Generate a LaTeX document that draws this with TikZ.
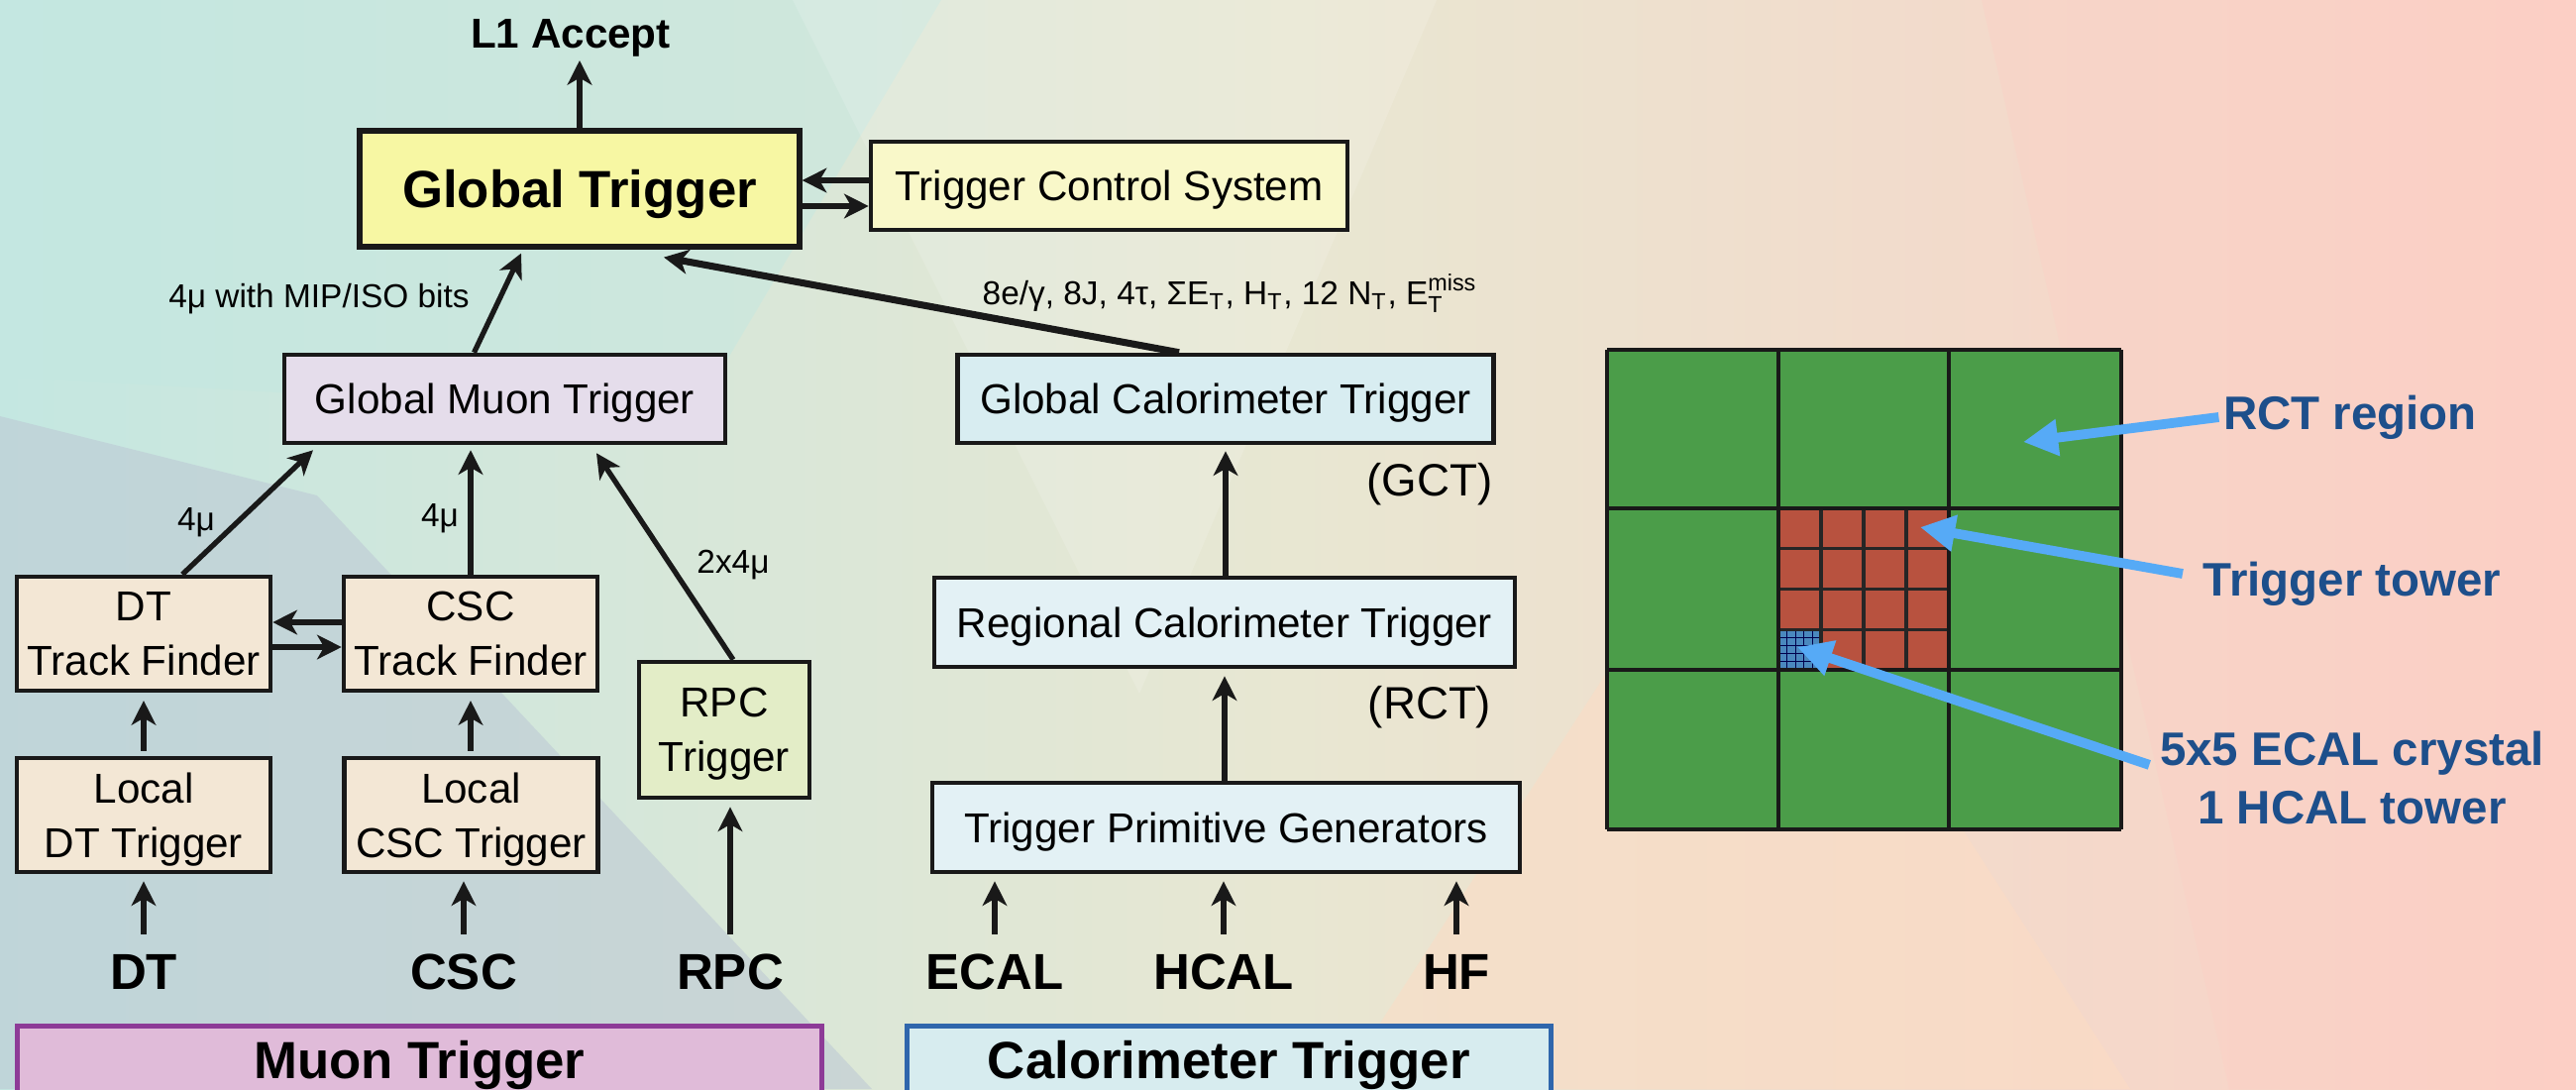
\documentclass[tikz,border=0pt]{standalone}
\usepackage{fontspec}
\setmainfont{Liberation Sans}
\usetikzlibrary{arrows.meta,positioning,calc}

\newlength\px
\setlength\px{0.01cm}

\definecolor{bgleft}{HTML}{C4E7E1}
\definecolor{bgmid}{HTML}{E8E7D2}
\definecolor{bgright}{HTML}{FCCFC5}
\definecolor{bgshadow}{HTML}{BCC8D4}
\definecolor{bgpeach}{HTML}{FDDCC4}
\definecolor{gtyellow}{HTML}{F7F7A3}
\definecolor{tcsyellow}{HTML}{F9F8C9}
\definecolor{gmtlilac}{HTML}{E5DDEB}
\definecolor{tfbeige}{HTML}{F3E7D5}
\definecolor{rpcgreen}{HTML}{E3EDC7}
\definecolor{gctblue}{HTML}{D8EDF1}
\definecolor{rctblue}{HTML}{E3F1F5}
\definecolor{muonpink}{HTML}{E0BBD9}
\definecolor{muonedge}{HTML}{8D3B97}
\definecolor{calofill}{HTML}{D7ECEF}
\definecolor{caloedge}{HTML}{2F66AC}
\definecolor{regiongreen}{HTML}{4B9D49}
\definecolor{towerred}{HTML}{B8523F}
\definecolor{crystalblue}{HTML}{4A88BE}
\definecolor{pointblue}{HTML}{56AAF6}
\definecolor{labelblue}{HTML}{1D4F8B}

\begin{document}
\begin{tikzpicture}[x=0.01cm, y=-0.01cm,
  box/.style={rectangle, draw=black!90, line width=1.3pt, inner sep=2pt, align=center, text depth=0pt, font=\fontsize{12pt}{15.5pt}\selectfont},
  inlbl/.style={font=\bfseries\fontsize{14.5pt}{17pt}\selectfont, inner sep=0pt, text height=10.5pt, text depth=0pt},
  elbl/.style={font=\fontsize{9.5pt}{11pt}\selectfont, inner sep=0pt},
  tag/.style={font=\fontsize{13pt}{15pt}\selectfont, inner sep=0pt},
  banner/.style={rectangle, line width=1.3pt, anchor=north west, inner sep=0pt, minimum height=68\px, text height=11pt, text depth=0pt, font=\bfseries\fontsize{15pt}{17pt}\selectfont},
  note/.style={font=\bfseries\fontsize{13.5pt}{16.5pt}\selectfont, text=labelblue, inner sep=0pt, align=center},
  arr/.style={-{Stealth[length=7pt, width=7pt, inset=2pt]}, line width=1.5pt, draw=black!90},
  pointer/.style={-{Triangle[length=10pt, width=10pt]}, line width=2.8pt, draw=pointblue}
]
\useasboundingbox (0,0) rectangle (2600,1099);
\clip (0,0) rectangle (2600,1099);

% Background
\shade[left color=bgleft, right color=bgright, middle color=bgmid] (0,0) rectangle (2600,1099);
\fill[bgleft, opacity=0.5] (0,0) -- (950,0) -- (700,420) -- (0,380) -- cycle;
\fill[bgshadow, opacity=0.55] (0,420) -- (320,500) -- (880,1099) -- (0,1099) -- cycle;
\fill[white, opacity=0.15] (800,0) -- (1450,0) -- (1150,700) -- cycle;
\fill[bgpeach, opacity=0.5] (1350,1099) -- (1750,480) -- (2150,1099) -- cycle;
\fill[bgright, opacity=0.4] (2000,0) -- (2600,0) -- (2600,1099) -- (2250,1099) -- cycle;

% Global trigger level
\node[box, fill=gtyellow, line width=1.5pt, minimum width=444\px, minimum height=117\px, font=\bfseries\fontsize{15pt}{17pt}\selectfont] (gt) at (585,190.5) {Global Trigger};
\node[box, fill=tcsyellow, minimum width=481\px, minimum height=89\px] (tcs) at (1119.5,187.5) {Trigger Control System};
\node[font=\bfseries\fontsize{12pt}{14pt}\selectfont, inner sep=0pt, anchor=base] (l1) at (576,48) {L1 Accept};
\draw[arr, shorten >=1pt] (gt.north) -- (l1.south -| gt.north);
\draw[arr] (tcs.west |- 0,182) -- (gt.east |- 0,182);
\draw[arr] (gt.east |- 0,208) -- (tcs.west |- 0,208);

% Muon trigger
\node[box, fill=gmtlilac, minimum width=445\px, minimum height=89\px] (gmt) at (509.5,402.5) {Global Muon Trigger};
\node[box, fill=tfbeige, minimum width=256\px, minimum height=115\px] (dttf) at (145,639.5) {DT\\Track Finder};
\node[box, fill=tfbeige, minimum width=256\px, minimum height=115\px] (csctf) at (475,639.5) {CSC\\Track Finder};
\node[box, fill=rpcgreen, minimum width=172\px, minimum height=137\px] (rpc) at (731,736.5) {RPC\\Trigger};
\node[box, fill=tfbeige, minimum width=256\px, minimum height=115\px] (ldt) at (145,822.5) {Local\\DT Trigger};
\node[box, fill=tfbeige, minimum width=256\px, minimum height=115\px] (lcsc) at (475.5,822.5) {Local\\CSC Trigger};

\draw[arr] ($(gmt.north)+(-31,0)$) -- ($(gt.south)+(-59,4)$);
\draw[arr] ($(dttf.north)+(39,0)$) -- ($(gmt.south)+(-193.5,5)$);
\draw[arr, shorten >=1.4pt] (csctf.north) -- (csctf.north |- gmt.south);
\draw[arr] ($(rpc.north)+(9,0)$) -- ($(gmt.south)+(92.5,8)$);
\draw[arr] (csctf.west |- 0,628) -- (dttf.east |- 0,628);
\draw[arr] (dttf.east |- 0,653) -- (csctf.west |- 0,653);
\draw[arr, shorten <=1.4pt, shorten >=2.2pt] (ldt.north) -- (dttf.south);
\draw[arr, shorten <=1.4pt, shorten >=2.2pt] (lcsc.north -| csctf.south) -- (csctf.south);

\node[elbl] (lblgt) at (322,302) {4μ with MIP/ISO bits};
\node[elbl] (lbldt) at (198,527) {4μ};
\node[elbl] (lblcsc) at (444,523) {4μ};
\node[elbl] (lblrpc) at (740,570) {2x4μ};

% Calorimeter trigger
\node[box, fill=gctblue, minimum width=541\px, minimum height=89\px] (gct) at (1237,402.5) {Global Calorimeter Trigger};
\node[box, fill=rctblue, minimum width=586\px, minimum height=90\px] (rct) at (1236,628) {Regional Calorimeter Trigger};
\node[box, fill=rctblue, minimum width=593\px, minimum height=90\px] (tpg) at (1237.5,835) {Trigger Primitive Generators};
\node[tag] (gcttag) at (1443,489) {(GCT)};
\node[tag] (rcttag) at (1443,714) {(RCT)};

\draw[arr, line width=2pt] ($(gct.north)+(-47,0)$) -- ($(gt.south)+(85,8)$);
\draw[arr, shorten >=1.7pt] (rct.north -| gct.south) -- (gct.south);
\draw[arr, shorten >=2pt] (tpg.north -| rct.south) -- (rct.south);
\node[elbl, anchor=base west] (lblgct) at (991,307) {8e/γ, 8J, 4τ, ΣE\textsubscript{T}, H\textsubscript{T}, 12 N\textsubscript{T}, E$^{\mathrm{miss}}_{\mathrm{T}}$};

% Inputs
\node[inlbl, anchor=base] (dtin) at (145,998) {DT};
\node[inlbl, anchor=base] (cscin) at (468,998) {CSC};
\node[inlbl, anchor=base] (rpcin) at (737,998) {RPC};
\node[inlbl, anchor=base] (ecalin) at (1004,998) {ECAL};
\node[inlbl, anchor=base] (hcalin) at (1235,998) {HCAL};
\node[inlbl, anchor=base] (hfin) at (1470,998) {HF};
\draw[arr, shorten <=5pt, shorten >=2pt] (dtin.north) -- (dtin.north |- ldt.south);
\draw[arr, shorten <=5pt, shorten >=2pt] (cscin.north) -- (cscin.north |- lcsc.south);
\draw[arr, shorten <=5pt, shorten >=2pt] (rpcin.north) -- (rpcin.north |- rpc.south);
\draw[arr, shorten <=5pt, shorten >=2pt] (ecalin.north) -- (ecalin.north |- tpg.south);
\draw[arr, shorten <=5pt, shorten >=2pt] (hcalin.north) -- (hcalin.north |- tpg.south);
\draw[arr, shorten <=5pt, shorten >=2pt] (hfin.north) -- (hfin.north |- tpg.south);

% Banners
\node[banner, fill=muonpink, draw=muonedge, minimum width=812\px] (muonbar) at (15,1033) {Muon Trigger};
\node[banner, fill=calofill, draw=caloedge, minimum width=650\px] (calobar) at (913,1033) {Calorimeter Trigger};

% RCT region grid
\fill[regiongreen] (1622,353) rectangle (2141,837);
\fill[towerred] (1795,513) rectangle (1967,676);
\fill[crystalblue] (1795,635.25) rectangle (1838,676);
\foreach \i in {1,...,4} {
  \draw[black!70!blue, line width=0.35pt] (1795+8.6*\i,635.25) -- ++(0,40.75);
  \draw[black!70!blue, line width=0.35pt] (1795,635.25+8.15*\i) -- ++(43,0);
}
\foreach \i in {1,2,3} {
  \draw[black!85, line width=0.9pt] (1795+43*\i,513) -- ++(0,163);
  \draw[black!85, line width=0.9pt] (1795,513+40.75*\i) -- ++(172,0);
}
\foreach \x in {1622,1795,1967,2141}
  \draw[black!90, line width=1.3pt] (\x,353) -- (\x,837);
\foreach \y in {353,513,676,837}
  \draw[black!90, line width=1.3pt] (1622,\y) -- (2141,\y);

\coordinate (regiontip) at (2042,446);
\coordinate (towertip) at (1938,532);
\coordinate (crystaltip) at (1814,653);
\node[note] (regionlbl) at (2372,421) {RCT region};
\node[note] (towerlbl) at (2374,589) {Trigger tower};
\node[note] (crystallbl) at (2374,785) {5x5 ECAL crystal\\1 HCAL tower};
\draw[pointer] ($(regionlbl.west)+(-4,0)$) -- (regiontip);
\draw[pointer] ($(towerlbl.west)+(-20,-10)$) -- (towertip);
\draw[pointer] ($(crystallbl.north west)+(-10,34)$) -- (crystaltip);

\end{tikzpicture}
\end{document}
